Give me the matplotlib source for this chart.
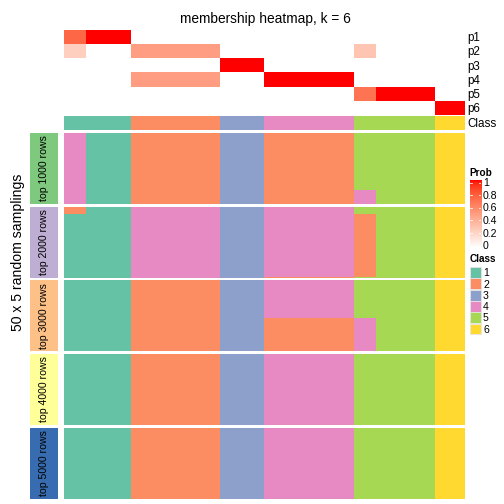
import numpy as np
import matplotlib
matplotlib.use("Agg")
import matplotlib.pyplot as plt
from matplotlib.patches import Rectangle

plt.rcParams['font.family'] = ['Liberation Sans', 'DejaVu Sans']

# ---------------- data ----------------
block_sizes = [3, 6, 12, 6, 12, 3, 8, 4]          # samples per block (54 samples)
p1 = [0.75, 1.0, 0.0, 0.0, 0.0, 0.0, 0.0, 0.0]
p2 = [0.25, 0.0, 0.5, 0.0, 0.0, 0.3, 0.0, 0.0]
p3 = [0.0, 0.0, 0.0, 1.0, 0.0, 0.0, 0.0, 0.0]
p4 = [0.0, 0.0, 0.5, 0.0, 1.0, 0.0, 0.0, 0.0]
p5 = [0.0, 0.0, 0.0, 0.0, 0.0, 0.7, 1.0, 0.0]
p6 = [0.0, 0.0, 0.0, 0.0, 0.0, 0.0, 0.0, 1.0]
class_row = [1, 1, 2, 3, 4, 5, 5, 6]
row_names = ["p1", "p2", "p3", "p4", "p5", "p6"]

group_labels = ["top 1000 rows", "top 2000 rows", "top 3000 rows",
                "top 4000 rows", "top 5000 rows"]
group_colors = ["#7FC97F", "#BEAED4", "#FDC086", "#FFFF99", "#386CB0"]
# per group, per block: runs of (class, number of samplings) top to bottom
group_runs = [
    [[(4, 50)], [(1, 50)], [(2, 50)], [(3, 50)], [(2, 50)],
     [(5, 40), (4, 10)], [(5, 50)], [(6, 50)]],
    [[(2, 5), (1, 45)], [(1, 50)], [(4, 50)], [(3, 50)], [(4, 49), (2, 1)],
     [(5, 5), (2, 44), (5, 1)], [(5, 50)], [(6, 50)]],
    [[(1, 50)], [(1, 50)], [(2, 50)], [(3, 50)], [(4, 27), (2, 23)],
     [(5, 27), (4, 23)], [(5, 50)], [(6, 50)]],
    [[(1, 50)], [(1, 50)], [(2, 50)], [(3, 50)], [(4, 50)],
     [(5, 50)], [(5, 50)], [(6, 50)]],
    [[(1, 50)], [(1, 50)], [(2, 50)], [(3, 50)], [(4, 50)],
     [(5, 50)], [(5, 50)], [(6, 50)]],
]
class_colors = {1: "#66C2A5", 2: "#FC8D62", 3: "#8DA0CB",
                4: "#E78AC3", 5: "#A6D854", 6: "#FFD92F"}
prob_ticks = [0, 0.2, 0.4, 0.6, 0.8, 1]

# ---------------- colour helpers (LAB interpolation white -> red) ----------------
M = np.array([[0.4124564, 0.3575761, 0.1804375],
              [0.2126729, 0.7151522, 0.0721750],
              [0.0193339, 0.1191920, 0.9503041]])
Minv = np.linalg.inv(M)
WP = M @ np.ones(3)

def srgb_to_lab(rgb):
    rgb = np.asarray(rgb, float)
    lin = np.where(rgb <= 0.04045, rgb / 12.92, ((rgb + 0.055) / 1.055) ** 2.4)
    xyz = M @ lin
    f = xyz / WP
    f = np.where(f > 0.008856, np.cbrt(f), 7.787 * f + 16 / 116)
    return np.array([116 * f[1] - 16, 500 * (f[0] - f[1]), 200 * (f[1] - f[2])])

def lab_to_srgb(lab):
    L, a, b = lab
    fy = (L + 16) / 116
    fx = fy + a / 500
    fz = fy - b / 200
    f = np.array([fx, fy, fz])
    xyz = np.where(f ** 3 > 0.008856, f ** 3, (f - 16 / 116) / 7.787)
    xyz = xyz * WP
    lin = np.clip(Minv @ xyz, 0, 1)
    rgb = np.where(lin <= 0.0031308, 12.92 * lin, 1.055 * lin ** (1 / 2.4) - 0.055)
    return np.clip(rgb, 0, 1)

LAB_W = srgb_to_lab([1, 1, 1])
LAB_R = srgb_to_lab([1, 0, 0])

def prob_color(t):
    if t <= 0:
        return np.array([1.0, 1.0, 1.0])
    return lab_to_srgb(LAB_W + (LAB_R - LAB_W) * t)

def hex_rgb(h):
    h = h.lstrip('#')
    return np.array([int(h[i:i + 2], 16) / 255 for i in (0, 2, 4)])

# ---------------- figure ----------------
W = H = 504
fig = plt.figure(figsize=(7, 7), dpi=72)

def ax_px(x0, y0, x1, y1):
    ax = fig.add_axes([x0 / W, 1 - y1 / H, (x1 - x0) / W, (y1 - y0) / H])
    ax.set_axis_off()
    return ax

def label_px(x, y_mid, s, size, **kw):
    # place text so its cap-height is centred on y_mid (pixels from top)
    fig.text(x / W, 1 - (y_mid + 0.36 * size) / H, s, fontsize=size,
             va='baseline', ha='left', **kw)

n_samples = sum(block_sizes)
XL, XR = 64, 465

# membership rows
probs = [p1, p2, p3, p4, p5, p6]
img = np.zeros((6, n_samples, 3))
for r, pr in enumerate(probs):
    vals = np.repeat(pr, block_sizes)
    for c, v in enumerate(vals):
        img[r, c] = prob_color(v)
ax = ax_px(XL, 30, XR, 115)
ax.imshow(img, aspect='auto', interpolation='nearest', extent=[0, n_samples, 6, 0])
ax.set_xlim(0, n_samples); ax.set_ylim(6, 0)
row_h = (115 - 30) / 6
for r, name in enumerate(row_names):
    label_px(467.5, 30 + row_h * (r + 0.5), name, 11.6)

# class row
cls = np.repeat(class_row, block_sizes)
img = np.array([[hex_rgb(class_colors[c]) for c in cls]])
ax = ax_px(XL, 116, XR, 130)
ax.imshow(img, aspect='auto', interpolation='nearest', extent=[0, n_samples, 1, 0])
label_px(467.5, 123, "Class", 11.6)

# sampling groups
g_top, g_h, g_step = 133, 70.8, 73.7
for g, runs in enumerate(group_runs):
    mat = np.zeros((50, n_samples, 3))
    c0 = 0
    for b, bsize in enumerate(block_sizes):
        r0 = 0
        for cl, n in runs[b]:
            mat[r0:r0 + n, c0:c0 + bsize] = hex_rgb(class_colors[cl])
            r0 += n
        c0 += bsize
    y0 = g_top + g * g_step
    ax = ax_px(XL, y0, XR, y0 + g_h)
    ax.imshow(mat, aspect='auto', interpolation='nearest', extent=[0, n_samples, 50, 0])
    # left annotation
    ax2 = ax_px(30, y0, 58, y0 + g_h)
    ax2.add_patch(Rectangle((0, 0), 1, 1, color=group_colors[g], transform=ax2.transAxes))
    ax2.text(0.5, 0.5, group_labels[g], rotation=90, ha='center', va='center',
             fontsize=10.5, transform=ax2.transAxes)

fig.text(18 / W, 1 - 252 / H, "50 x 5 random samplings", rotation=90,
         ha='center', va='center', fontsize=14)
fig.text(265 / W, 1 - 19 / H, "membership heatmap, k = 6", ha='center', va='center', fontsize=13.8)

# Prob legend
label_px(469.5, 172, "Prob", 10, fontweight='bold')
cb_x0, cb_x1, cb_top, cb_bot = 469.5, 481, 180, 248
grad = np.array([[prob_color(t)] for t in np.linspace(1, 0, 100)])
ax = ax_px(cb_x0, cb_top, cb_x1, cb_bot)
ax.imshow(grad, aspect='auto', extent=[0, 1, 0, 1], interpolation='bilinear')
ax.set_xlim(0, 1); ax.set_ylim(0, 1)
y_1, y_0 = 182.5, 245.5
for t in prob_ticks:
    yp = y_0 + (y_1 - y_0) * t
    yf = (cb_bot - yp) / (cb_bot - cb_top)
    ax.plot([0, 0.2], [yf, yf], color='white', lw=0.8)
    ax.plot([0.8, 1], [yf, yf], color='white', lw=0.8)
    lab = "0" if t == 0 else ("1" if t == 1 else f"{t:g}")
    label_px(483, yp, lab, 10.5)

# Class legend
label_px(469.5, 258, "Class", 10, fontweight='bold')
for i, c in enumerate(sorted(class_colors)):
    yc = 272.5 + 11.3 * i
    fig.patches.append(Rectangle((470 / W, 1 - (yc + 5.4) / H), 11 / W, 10.8 / H,
                                 facecolor=class_colors[c], edgecolor='#E6E6E6', lw=0.8,
                                 transform=fig.transFigure, figure=fig))
    label_px(483, yc, str(c), 10.5)

fig.savefig("out.png", dpi=72)
